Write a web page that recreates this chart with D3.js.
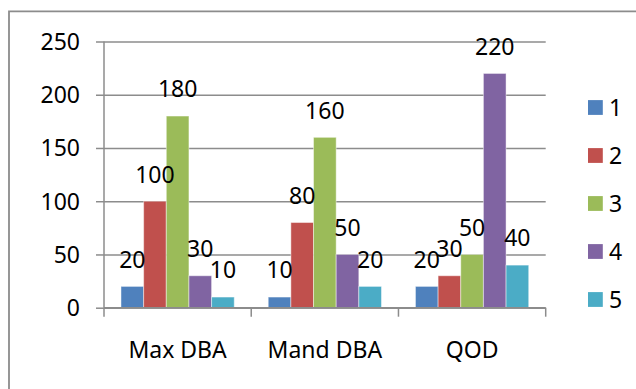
<!DOCTYPE html>
<html>
<head>
<meta charset="utf-8">
<script src="https://cdn.jsdelivr.net/npm/d3@7"></script>
<style>
  html, body { margin: 0; padding: 0; background: #fff; }
  svg { display: block; }
  text { font-family: "Noto Sans", "Open Sans", sans-serif; fill: #000; }
</style>
</head>
<body>
<script>
// Categories and the five series values per category
const categories = ["Max DBA", "Mand DBA", "QOD"];
const seriesNames = ["1", "2", "3", "4", "5"];
const series1 = [20, 10, 20];
const series2 = [100, 80, 30];
const series3 = [180, 160, 50];
const series4 = [30, 50, 220];
const series5 = [10, 20, 40];
const yTicks = [0, 50, 100, 150, 200, 250];
const colors = ["#4F81BD", "#C0504D", "#9BBB59", "#8064A2", "#4BACC6"];

const seriesValues = [series1, series2, series3, series4, series5];

const W = 636, H = 389;
const plot = { left: 104, right: 545.7, top: 41.5, bottom: 307.7 };
const fontSize = 23;
const gray = "#8c8c8c";

const svg = d3.select("body").append("svg")
  .attr("width", W).attr("height", H);

// Chart frame (left and top edges visible)
svg.append("path")
  .attr("d", `M9,${H + 5} V11.3 H${W + 5}`)
  .attr("fill", "none")
  .attr("stroke", gray)
  .attr("stroke-width", 1.8);

const x = d3.scaleBand()
  .domain(categories)
  .range([plot.left, plot.right])
  .paddingInner(0).paddingOuter(0);

// Bars within a category: gap width of 150% split on both sides
const x1 = d3.scaleBand()
  .domain(seriesNames)
  .range([0, x.bandwidth()])
  .paddingInner(0).paddingOuter(0.75);

const y = d3.scaleLinear()
  .domain([0, 250])
  .range([plot.bottom, plot.top]);

// Gridlines and y axis
const yAxis = d3.axisLeft(y)
  .tickValues(yTicks)
  .tickSize(8)
  .tickPadding(0)
  .tickFormat(d3.format("d"));

const gy = svg.append("g")
  .attr("transform", `translate(${plot.left},0)`)
  .call(yAxis);
gy.select(".domain").remove();
gy.selectAll(".tick line")
  .attr("stroke", gray).attr("stroke-width", 1.5);
gy.selectAll(".tick").append("line")
  .attr("x1", 0).attr("x2", plot.right - plot.left)
  .attr("stroke", gray).attr("stroke-width", 1.5);
gy.selectAll(".tick text")
  .attr("x", -24)
  .attr("dy", null)
  .attr("y", 8)
  .attr("font-size", fontSize)
  .attr("font-family", "Noto Sans, sans-serif")
  .attr("fill", "#000")
  .attr("text-anchor", "end");

// Vertical axis line
svg.append("line")
  .attr("x1", plot.left).attr("x2", plot.left)
  .attr("y1", plot.top).attr("y2", plot.bottom)
  .attr("stroke", gray).attr("stroke-width", 1.5);

// Bars
const groups = svg.append("g").selectAll("g")
  .data(categories)
  .join("g")
  .attr("transform", d => `translate(${x(d)},0)`);

groups.selectAll("rect")
  .data((cat, ci) => seriesNames.map((s, si) => ({ s, si, v: seriesValues[si][ci] })))
  .join("rect")
  .attr("x", d => x1(d.s))
  .attr("y", d => y(d.v))
  .attr("width", x1.bandwidth())
  .attr("height", d => y(0) - y(d.v))
  .attr("fill", d => colors[d.si])
  .attr("stroke", "rgba(255,255,255,0.45)")
  .attr("stroke-width", 1);

// Value labels above each bar
groups.selectAll("text.val")
  .data((cat, ci) => seriesNames.map((s, si) => ({ s, si, v: seriesValues[si][ci] })))
  .join("text")
  .attr("class", "val")
  .attr("x", d => x1(d.s) + x1.bandwidth() / 2)
  .attr("y", d => y(d.v) - 18.7)
  .attr("text-anchor", "middle")
  .attr("font-size", fontSize)
  .text(d => d.v);

// Horizontal axis with category separators
const xAxisG = svg.append("g");
xAxisG.append("line")
  .attr("x1", plot.left).attr("x2", plot.right)
  .attr("y1", plot.bottom).attr("y2", plot.bottom)
  .attr("stroke", gray).attr("stroke-width", 1.5);
const sepPositions = categories.map(c => x(c)).concat([x(categories[categories.length - 1]) + x.bandwidth()]);
xAxisG.selectAll("line.sep")
  .data(sepPositions)
  .join("line")
  .attr("class", "sep")
  .attr("x1", d => d).attr("x2", d => d)
  .attr("y1", plot.bottom).attr("y2", plot.bottom + 9)
  .attr("stroke", gray).attr("stroke-width", 1.5);
xAxisG.selectAll("text")
  .data(categories)
  .join("text")
  .attr("x", d => x(d) + x.bandwidth() / 2)
  .attr("y", 358.3)
  .attr("text-anchor", "middle")
  .attr("font-size", fontSize)
  .text(d => d);

// Legend
const legend = svg.append("g").attr("transform", "translate(588,0)");
const legendItems = legend.selectAll("g")
  .data(seriesNames)
  .join("g")
  .attr("transform", (d, i) => `translate(0,${107.5 + i * 48})`);
legendItems.append("rect")
  .attr("x", 0).attr("y", -7.4)
  .attr("width", 14.8).attr("height", 14.8)
  .attr("fill", (d, i) => colors[i]);
legendItems.append("text")
  .attr("x", 21)
  .attr("y", 8.2)
  .attr("font-size", fontSize)
  .text(d => d);
</script>
</body>
</html>
